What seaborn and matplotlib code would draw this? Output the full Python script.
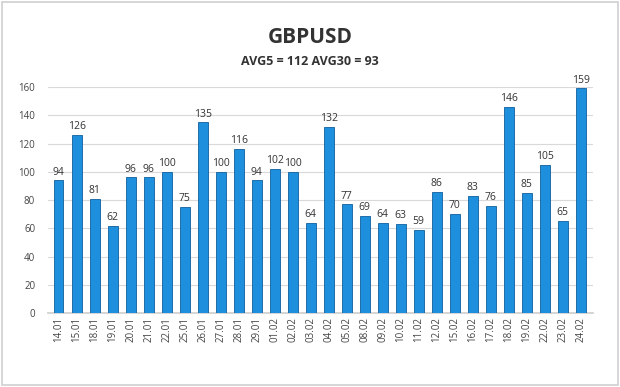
import matplotlib
matplotlib.use("Agg")
import matplotlib.pyplot as plt
import seaborn as sns
import pandas as pd
from matplotlib.patches import Rectangle

# Данные
dates = ["14.01", "15.01", "18.01", "19.01", "20.01", "21.01", "22.01", "25.01",
         "26.01", "27.01", "28.01", "29.01", "01.02", "02.02", "03.02", "04.02",
         "05.02", "08.02", "09.02", "10.02", "11.02", "12.02", "15.02", "16.02",
         "17.02", "18.02", "19.02", "22.02", "23.02", "24.02"]
values = [94, 126, 81, 62, 96, 96, 100, 75, 135, 100, 116, 94, 102, 100, 64, 132,
          77, 69, 64, 63, 59, 86, 70, 83, 76, 146, 85, 105, 65, 159]
title = "GBPUSD"
subtitle = "AVG5 = 112 AVG30 = 93"

df = pd.DataFrame({"date": dates, "value": values})

sns.set_theme(style="white")
plt.rcParams['font.family'] = ['Open Sans', 'DejaVu Sans']

fig = plt.figure(figsize=(6.2, 3.87), dpi=100)
ax = fig.add_axes([0.077, 0.191, 0.88, 0.584])

sns.barplot(data=df, x="date", y="value", color="#1e8fdc", saturation=1,
            width=0.55, edgecolor="#0f5f9e", linewidth=0.6, ax=ax, zorder=3)

ax.bar_label(ax.containers[0], fontsize=7.5, color="#333333", padding=2)

ax.set_ylim(0, 160)
ax.set_yticks(range(0, 161, 20))
ax.set_xlim(-0.6, len(dates) - 0.3)
ax.grid(axis="y", color="#d9d9d9", linewidth=0.8, zorder=0)
for s in ["top", "right", "left"]:
    ax.spines[s].set_visible(False)
ax.spines["bottom"].set_color("#d0d0d0")
ax.tick_params(axis="x", labelrotation=90, labelsize=7, colors="#444444", length=0, pad=3)
ax.tick_params(axis="y", labelsize=7, colors="#444444", length=0, pad=9)
ax.set_xlabel("")
ax.set_ylabel("")

fig.text(0.5, 0.904, title, ha="center", va="center", fontsize=15,
         fontweight="bold", color="#333333")
fig.text(0.5, 0.84, subtitle, ha="center", va="center", fontsize=9,
         fontweight="bold", color="#333333")

fig.patches.append(Rectangle((0.003, 0.004), 0.994, 0.992, transform=fig.transFigure,
                             fill=False, edgecolor="#d0d0d0", linewidth=1.2))

fig.savefig("out.png", dpi=100)
